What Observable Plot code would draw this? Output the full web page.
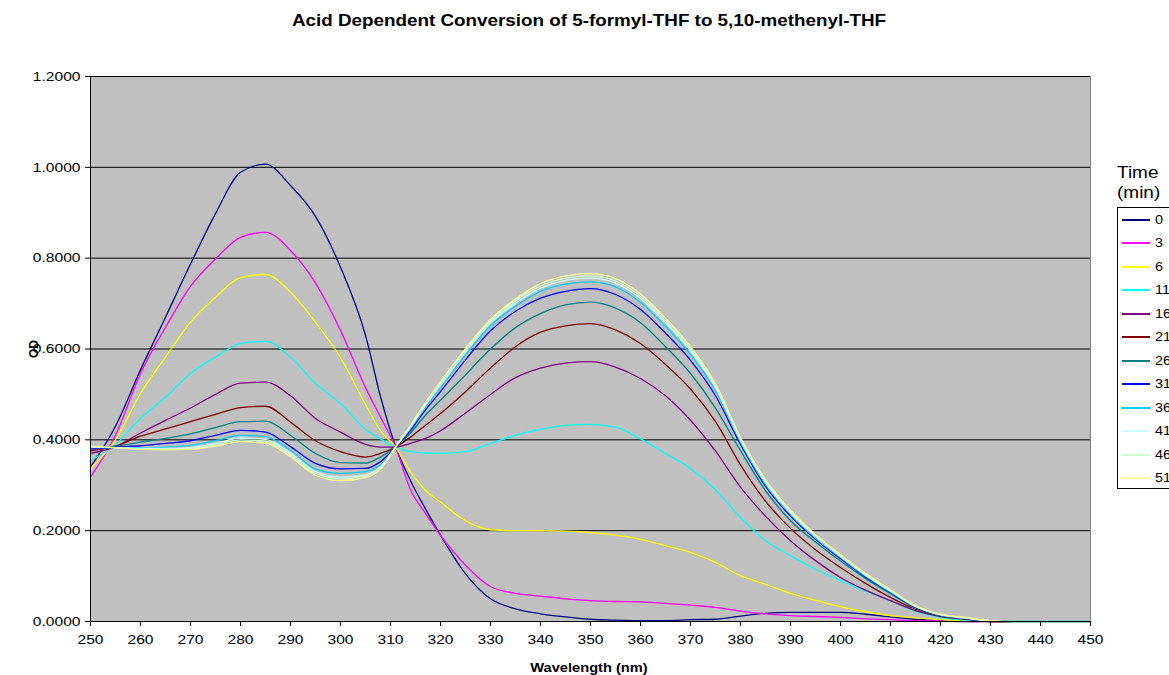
<!DOCTYPE html>
<html>
<head>
<meta charset="utf-8">
<script src="https://cdn.jsdelivr.net/npm/d3@7"></script>
<script src="https://cdn.jsdelivr.net/npm/@observablehq/plot@0.6"></script>
<style>
  body { margin: 0; background: #fff; overflow: hidden; font-family: "Liberation Sans", Arial, sans-serif; }
  #wrap { position: relative; width: 1169px; height: 675px; overflow: hidden; }
  #chart { position: absolute; left: 0; top: 0; }
  #title { position: absolute; left: 589px; top: 21px; transform: translate(-50%, -50%) scaleX(1.2); font-weight: bold; font-size: 15.7px; color: #000; white-space: nowrap; }
  #ylab { position: absolute; left: 34px; top: 349px; transform: translate(-50%, -50%) rotate(-90deg); font-weight: bold; font-size: 12px; white-space: nowrap; }
  #xlab { position: absolute; left: 589px; top: 668px; transform: translate(-50%, -50%) scaleX(1.22); font-weight: bold; font-size: 12px; white-space: nowrap; }
  #legtitle { position: absolute; left: 1117px; top: 162px; font-size: 16.5px; line-height: 20px; color: #000; transform: scaleX(1.15); transform-origin: 0 0; }
  #legend { position: absolute; left: 1117px; top: 207px; width: 80px; height: 282px; border: 1px solid #000; background: #fff; box-sizing: border-box; }
  .item { position: absolute; left: 0; height: 14px; width: 80px; }
  .sw { position: absolute; left: 4px; top: 6px; width: 28px; height: 2px; }
  .lb { position: absolute; left: 37px; top: 0; font-size: 12px; line-height: 14px; color: #000; transform: scaleX(1.2); transform-origin: 0 0; }
</style>
</head>
<body>
<div id="wrap">
  <div id="chart"></div>
  <div id="title">Acid Dependent Conversion of 5-formyl-THF to 5,10-methenyl-THF</div>
  <div id="ylab">OD</div>
  <div id="xlab">Wavelength (nm)</div>
  <div id="legtitle">Time<br>(min)</div>
  <div id="legend"></div>
</div>
<script>
// Wavelengths (nm)
const wavelengths = [250,255,260,265,270,275,280,285,290,295,300,305,308,311,314,317,320,325,330,335,340,345,350,355,360,365,370,375,380,385,390,395,400,405,410,415,420,425,430,435,440,445,450];

// Time points (min) and series colours
const times = [0,3,6,11,16,21,26,31,36,41,46,51];
const colors = ["#000080","#FF00FF","#FFFF00","#00FFFF","#800080","#800000","#008080","#0000FF","#00CCFF","#CCFFFF","#CCFFCC","#FFFF99"];

// OD values per time point
const od0  = [0.340,0.430,0.554,0.670,0.787,0.898,0.989,1.007,0.960,0.892,0.780,0.630,0.495,0.386,0.310,0.248,0.190,0.105,0.050,0.028,0.017,0.010,0.005,0.003,0.002,0.002,0.004,0.005,0.012,0.018,0.020,0.020,0.020,0.016,0.010,0.005,0.002,0,0,0,0,0,0];
const od3  = [0.318,0.410,0.546,0.648,0.738,0.798,0.846,0.857,0.817,0.745,0.641,0.515,0.450,0.384,0.290,0.238,0.190,0.124,0.077,0.062,0.056,0.050,0.046,0.044,0.043,0.040,0.036,0.031,0.023,0.017,0.013,0.011,0.009,0.006,0.004,0.002,0.001,0,0,0,0,0,0];
const od6  = [0.337,0.400,0.502,0.582,0.659,0.714,0.757,0.764,0.725,0.659,0.581,0.478,0.420,0.384,0.330,0.289,0.263,0.222,0.202,0.200,0.200,0.199,0.196,0.190,0.181,0.167,0.152,0.130,0.101,0.082,0.062,0.047,0.033,0.022,0.013,0.008,0.004,0.001,0,0,0,0,0];
const od11 = [0.354,0.390,0.447,0.494,0.546,0.582,0.612,0.617,0.582,0.524,0.480,0.423,0.402,0.384,0.374,0.371,0.370,0.374,0.392,0.410,0.423,0.432,0.434,0.428,0.402,0.370,0.337,0.290,0.229,0.178,0.145,0.115,0.090,0.067,0.046,0.022,0.009,0.003,0,0,0,0,0];
const od16 = [0.370,0.385,0.415,0.443,0.470,0.500,0.525,0.527,0.497,0.447,0.417,0.390,0.384,0.384,0.392,0.403,0.420,0.459,0.500,0.537,0.558,0.569,0.572,0.560,0.535,0.497,0.443,0.375,0.296,0.232,0.178,0.134,0.097,0.069,0.046,0.024,0.011,0.005,0,0,0,0,0];
const od21 = [0.376,0.386,0.408,0.424,0.440,0.456,0.471,0.474,0.439,0.398,0.374,0.362,0.370,0.384,0.406,0.432,0.458,0.506,0.558,0.605,0.637,0.651,0.656,0.642,0.612,0.566,0.512,0.440,0.345,0.265,0.205,0.158,0.119,0.084,0.053,0.027,0.012,0.006,0,0,0,0,0];
const od26 = [0.382,0.386,0.395,0.403,0.413,0.427,0.440,0.441,0.410,0.370,0.350,0.349,0.362,0.384,0.415,0.454,0.487,0.543,0.600,0.647,0.678,0.697,0.703,0.690,0.658,0.605,0.546,0.470,0.376,0.288,0.222,0.175,0.133,0.095,0.061,0.030,0.013,0.007,0.001,0,0,0,0];
const od31 = [0.380,0.384,0.387,0.392,0.398,0.410,0.421,0.417,0.385,0.348,0.336,0.337,0.352,0.384,0.421,0.466,0.506,0.576,0.640,0.683,0.712,0.727,0.733,0.720,0.687,0.635,0.575,0.497,0.390,0.298,0.232,0.181,0.138,0.098,0.064,0.031,0.014,0.007,0.001,0,0,0,0];
const od36 = [0.383,0.383,0.382,0.384,0.388,0.398,0.410,0.407,0.377,0.336,0.326,0.330,0.345,0.384,0.426,0.472,0.515,0.587,0.651,0.694,0.727,0.743,0.748,0.737,0.703,0.650,0.588,0.508,0.395,0.302,0.236,0.184,0.141,0.100,0.065,0.032,0.014,0.007,0.001,0,0,0,0];
const od41 = [0.384,0.383,0.381,0.381,0.383,0.392,0.404,0.401,0.371,0.330,0.318,0.323,0.341,0.384,0.428,0.476,0.520,0.593,0.657,0.701,0.734,0.751,0.756,0.745,0.711,0.658,0.596,0.515,0.399,0.306,0.239,0.187,0.143,0.102,0.067,0.033,0.015,0.008,0.001,0,0,0,0];
const od46 = [0.385,0.383,0.380,0.380,0.381,0.389,0.400,0.397,0.367,0.326,0.314,0.320,0.338,0.384,0.430,0.479,0.524,0.597,0.661,0.706,0.739,0.756,0.761,0.750,0.716,0.663,0.600,0.519,0.402,0.309,0.242,0.189,0.145,0.104,0.068,0.034,0.015,0.008,0.002,0,0,0,0];
const od51 = [0.386,0.383,0.379,0.378,0.379,0.386,0.396,0.393,0.363,0.322,0.310,0.317,0.335,0.384,0.432,0.482,0.528,0.601,0.665,0.710,0.744,0.761,0.766,0.755,0.721,0.668,0.605,0.523,0.405,0.312,0.245,0.191,0.147,0.106,0.070,0.035,0.016,0.009,0.002,0,0,0,0];

// Axis ticks
const xTicks = [250,260,270,280,290,300,310,320,330,340,350,360,370,380,390,400,410,420,430,440,450];
const yTicks = [0,0.2,0.4,0.6,0.8,1.0,1.2];

const series = [od0,od3,od6,od11,od16,od21,od26,od31,od36,od41,od46,od51];
const rows = [];
series.forEach((vals, i) => {
  vals.forEach((v, j) => rows.push({t: times[i], wl: wavelengths[j], od: v}));
});

const chart = Plot.plot({
  width: 1169,
  height: 675,
  marginTop: 76,
  marginBottom: 54,
  marginLeft: 90,
  marginRight: 79,
  style: {fontFamily: "Liberation Sans, Arial, sans-serif", fontSize: "13px", color: "#000", background: "transparent", overflow: "visible"},
  x: {domain: [250, 450]},
  y: {domain: [0, 1.2]},
  color: {type: "ordinal", domain: times, range: colors},
  marks: [
    Plot.frame({fill: "#c0c0c0", stroke: "#808080"}),
    Plot.ruleY(yTicks, {stroke: "#000", strokeWidth: 1}),
    Plot.lineY(rows, {x: "wl", y: "od", z: "t", stroke: "t", curve: "monotone-x", strokeWidth: 1.3}),
    Plot.ruleX([250], {stroke: "#000", strokeWidth: 1}),
    Plot.ruleY([0], {stroke: "#000", strokeWidth: 1}),
    Plot.axisX({ticks: xTicks, tickSize: 5, tickPadding: 8, label: null, fontSize: 13, tickFormat: d => String(d)}),
    Plot.axisY({ticks: yTicks, tickSize: 5, tickPadding: 5, label: null, fontSize: 13, tickFormat: d3.format(".4f")})
  ]
});
document.getElementById("chart").appendChild(chart);

// Stretch tick labels horizontally to match the reference's glyph proportions
d3.select(chart).selectAll('g[aria-label$="tick label"] text').each(function() {
  const el = this;
  const tr = el.getAttribute("transform");
  if (tr) {
    el.setAttribute("transform", tr + " scale(1.2,1)");
  } else {
    const x = el.getAttribute("x") || 0, y = el.getAttribute("y") || 0;
    el.removeAttribute("x"); el.removeAttribute("y");
    el.setAttribute("transform", `translate(${x},${y}) scale(1.2,1)`);
  }
});

// Legend
const leg = document.getElementById("legend");
times.forEach((t, i) => {
  const it = document.createElement("div");
  it.className = "item";
  it.style.top = Math.round(5 + i * 23.45) + "px";
  const sw = document.createElement("div");
  sw.className = "sw";
  sw.style.background = colors[i];
  const lb = document.createElement("div");
  lb.className = "lb";
  lb.textContent = String(t);
  it.appendChild(sw);
  it.appendChild(lb);
  leg.appendChild(it);
});
</script>
</body>
</html>
